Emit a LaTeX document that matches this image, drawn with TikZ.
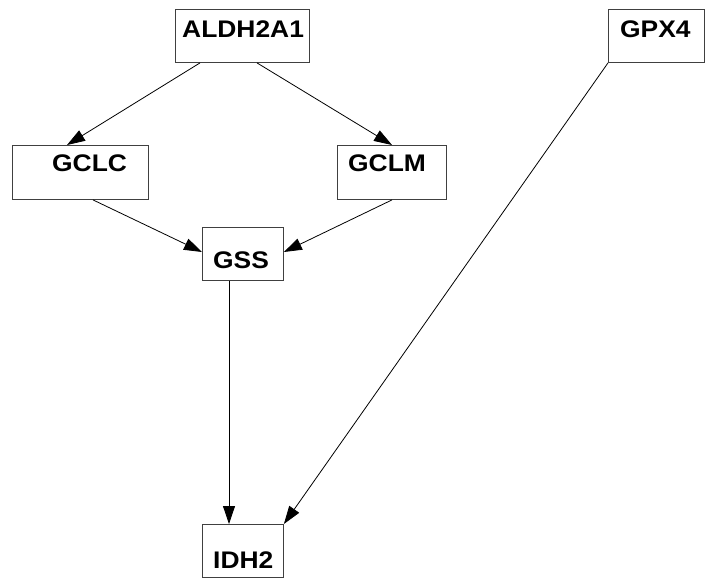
\documentclass[tikz,border=0pt]{standalone}
\usepackage{fontspec}
\setmainfont{Liberation Sans}
\usetikzlibrary{arrows.meta}
\tikzset{
  box/.style={draw=black!75, line width=0.9pt, rectangle, inner sep=0pt, anchor=north west},
  lbl/.style={anchor=base west, inner sep=0pt, font=\fontsize{24}{24}\selectfont\bfseries},
  edge/.style={draw=black, line width=0.8pt, -{Triangle[length=18pt, width=12pt]}, shorten >=0pt}
}
\newcommand{\wide}[1]{\scalebox{1.1}[1]{#1}}
\begin{document}
\begin{tikzpicture}[x=1pt,y=-1pt]
\useasboundingbox (0,0) rectangle (705,579);
\node[box, minimum width=134pt, minimum height=53pt] (aldh) at (175,9) {};
\node[box, minimum width=96pt, minimum height=53pt] (gpx) at (608,9) {};
\node[box, minimum width=136pt, minimum height=54pt] (gclc) at (12,145) {};
\node[box, minimum width=109pt, minimum height=54pt] (gclm) at (337,145) {};
\node[box, minimum width=81pt, minimum height=53pt] (gss) at (202,227) {};
\node[box, minimum width=81pt, minimum height=53pt] (idh) at (202,524) {};
\node[lbl] (taldh) at (182,37) {\wide{ALDH2A1}};
\node[lbl] (tgpx) at (620,37) {\wide{GPX4}};
\node[lbl] (tgclc) at (52,171) {\wide{GCLC}};
\node[lbl] (tgclm) at (348,171) {\wide{GCLM}};
\node[lbl] (tgss) at (213,268) {\wide{GSS}};
\node[lbl] (tidh) at (213,568) {\wide{IDH2}};
\draw[edge] ([xshift=25pt]aldh.south west) -- ([xshift=55pt]gclc.north west);
\draw[edge] ([xshift=82pt]aldh.south west) -- ([xshift=55pt]gclm.north west);
\draw[edge] ([xshift=81pt]gclc.south west) -- ([yshift=-25pt]gss.north west);
\draw[edge] ([xshift=55pt]gclm.south west) -- ([yshift=-25pt]gss.north east);
\draw[edge] ([xshift=27pt]gss.south west) -- ([xshift=27pt]idh.north west);
\draw[edge] (gpx.south west) -- (idh.north east);
\end{tikzpicture}
\end{document}
